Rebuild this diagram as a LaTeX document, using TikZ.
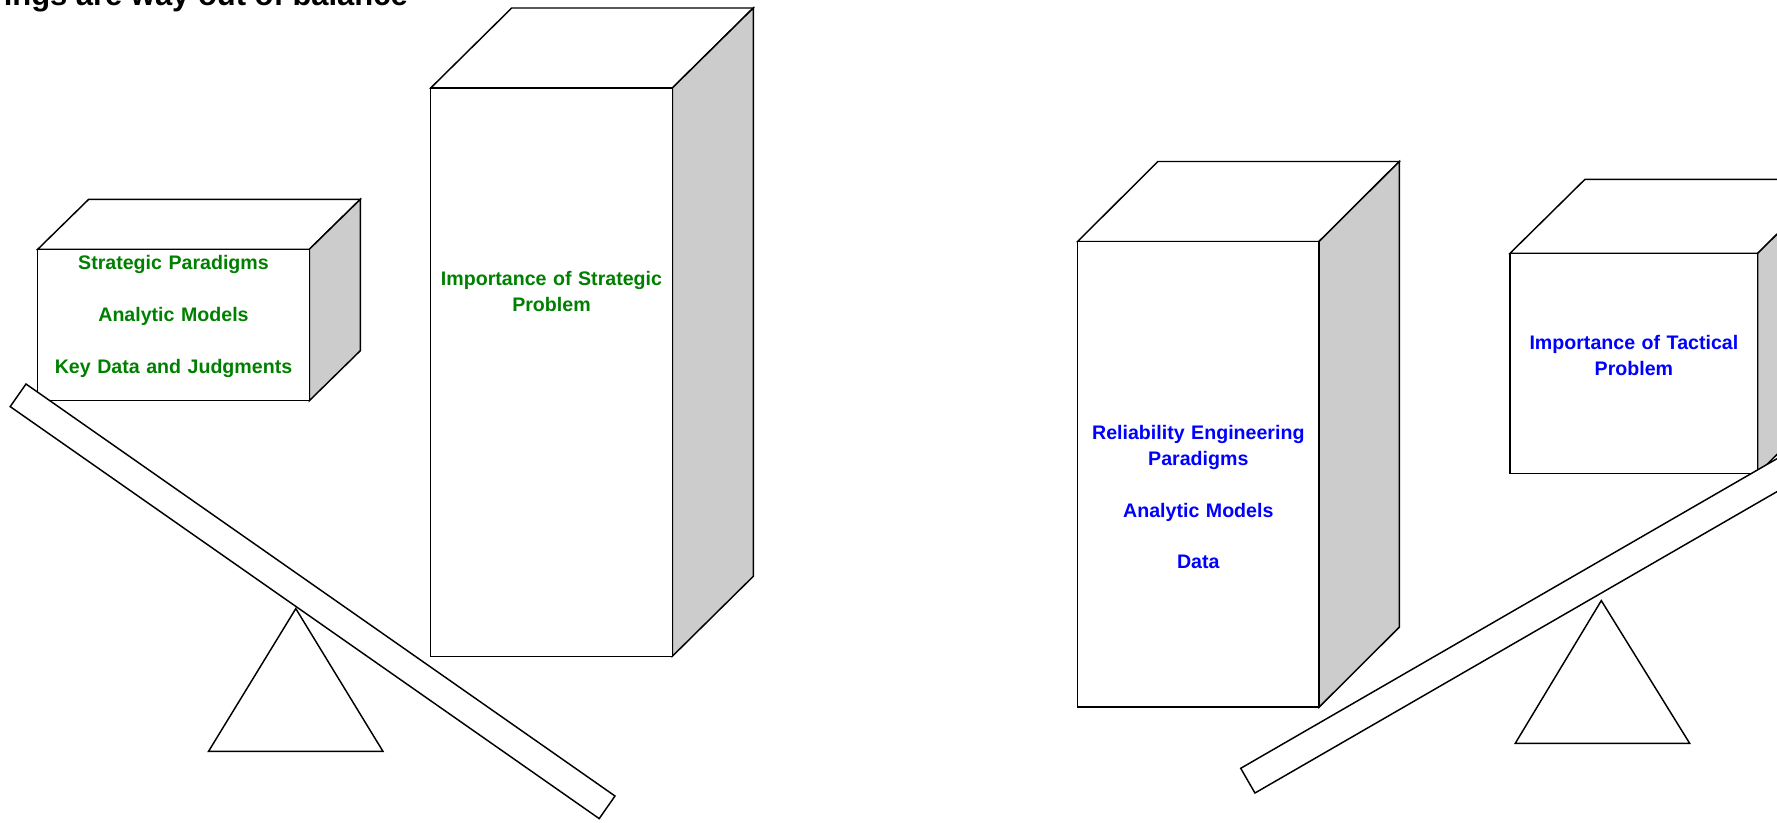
\documentclass[tikz,border=0pt]{standalone}
\usepackage{fontspec}
\setmainfont{Liberation Sans}
\usetikzlibrary{calc}

\definecolor{sidegray}{RGB}{204,204,204}
\definecolor{txtgreen}{RGB}{0,128,0}
\definecolor{txtblue}{RGB}{0,0,255}

\tikzset{
  edge/.style={draw=black, line width=1.1pt, line join=miter},
  faceplain/.style={edge, fill=white},
  faceshade/.style={edge, fill=sidegray},
  boxtext/.style={anchor=north, inner sep=0pt, align=center,
    font=\fontsize{14.7}{19.35}\selectfont\bfseries},
  titletext/.style={anchor=base east, inner sep=0pt,
    font=\fontsize{23.2}{28}\selectfont\bfseries},
}

% cuboid: front face from (#1,#2) to (#3,#4), receding by (#5,#6)
\newcommand\cuboid[6]{%
  \path[faceplain] (#1,#2) -- ++(#5,#6) -- ($(#3,#2)+(#5,#6)$) -- (#3,#2) -- cycle;
  \path[faceshade] (#3,#2) -- ++(#5,#6) -- ($(#3,#4)+(#5,#6)$) -- (#3,#4) -- cycle;
  \path[faceplain] (#1,#2) rectangle (#3,#4);
}

\begin{document}
\begin{tikzpicture}[x=0.75pt, y=-0.75pt]
  \useasboundingbox (0,0) rectangle (1777,822);
  \clip (0,0) rectangle (1777,822);

  % heading, running off the top-left corner
  \node[titletext] (title) at (408,5.5) {ings are way out of balance};

  % ---------- strategic side ----------
  \cuboid{37.7}{249.3}{309.3}{400.7}{51}{-50}
  \cuboid{430.7}{88}{672.3}{656.3}{81}{-80}

  % fulcrum and tilted beam
  \path[faceplain] (295.8,608.6) -- (383,751.4) -- (208.5,751.4) -- cycle;
  \path[faceplain] (26,384) -- (615,796) -- (599.2,818.6) -- (10.2,406.6) -- cycle;

  \node[boxtext, text width=271pt*0.75, text=txtgreen] (stratload) at (173.5,251.5)
    {\strut Strategic Paradigms\\[19.35pt]Analytic Models\\[19.35pt]Key Data and Judgments};
  \node[boxtext, text width=241pt*0.75, text=txtgreen] (stratimp) at (551.5,267)
    {\strut Importance of Strategic\\Problem};

  % ---------- tactical side ----------
  \cuboid{1077.6}{241.5}{1319}{707.2}{80.3}{-80}
  \cuboid{1510}{253.3}{1757.7}{473.5}{75}{-74}

  \path[faceplain] (1601.3,600.6) -- (1689.7,743.4) -- (1515.2,743.4) -- cycle;
  \path[faceplain] (1240.7,768.3) -- (1846.9,418.3) -- (1861.2,443) -- (1254.95,793) -- cycle;

  \node[boxtext, text width=241pt*0.75, text=txtblue] (relload) at (1198.3,421.6)
    {\strut Reliability Engineering\\Paradigms\\[19.35pt]Analytic Models\\[19.35pt]Data};
  \node[boxtext, text width=247pt*0.75, text=txtblue] (tactimp) at (1633.9,331.6)
    {\strut Importance of Tactical\\Problem};
\end{tikzpicture}
\end{document}
